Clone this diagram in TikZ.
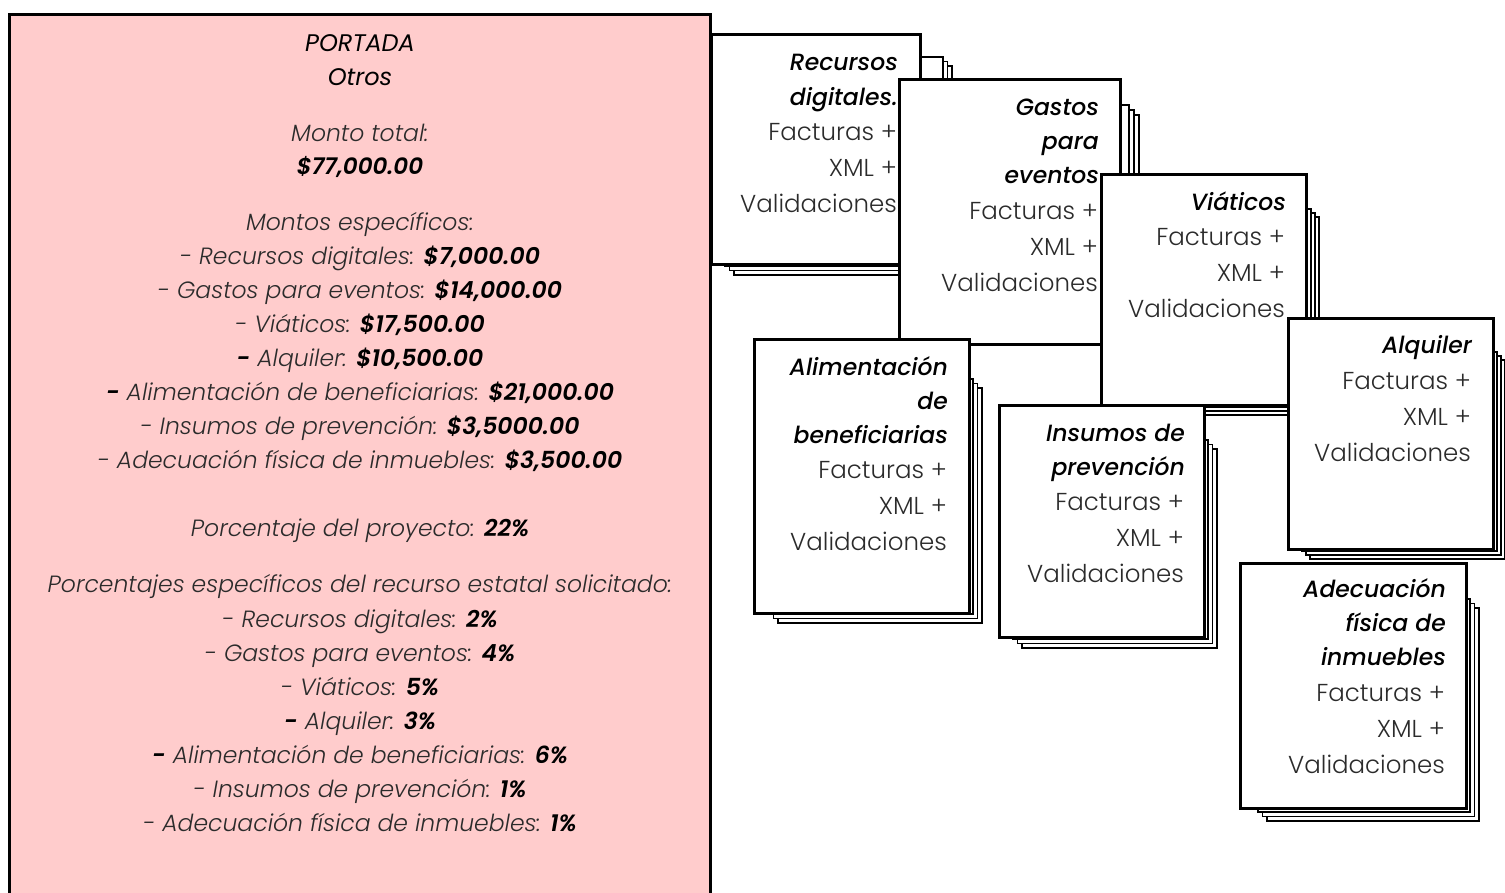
\documentclass[tikz,border=0pt]{standalone}
\usepackage{fontspec}
\setmainfont{Poppins}
\newfontface\plight{Poppins Light}
\newfontface\plightit{Poppins Light Italic}
\newfontface\pit{Poppins Italic}
\newfontface\pmedit{Poppins Medium Italic}
\newfontface\psbit{Poppins SemiBold Italic}
\definecolor{pinkfill}{HTML}{FFCCCC}
\definecolor{bodygrey}{HTML}{2B2B2B}
\newcommand\layers[5]{%
  \foreach \k in {2,1,0} {\draw[layerbox] ({#1+#5*\k},{#2+#5*\k}) rectangle ({#3+#5*\k},{#4+#5*\k});}}
\newcommand\bodylines[3]{%
  \node[bdy] (#1-b1) at (#2,#3) {Facturas +};
  \node[bdy] (#1-b2) at (#2,{#3+36}) {XML +};
  \node[bdy] (#1-b3) at (#2,{#3+72}) {Validaciones};}
\newcommand\lab[1]{{\plightit\color{bodygrey}#1}}
\newcommand\val[1]{{\psbit\color{black}#1}}
\begin{document}
\begin{tikzpicture}[x=1pt,y=-1pt,
  frontbox/.style={draw=black, line width=2.6pt, fill=white, inner sep=0pt, anchor=north west},
  layerbox/.style={draw=black, line width=1.8pt, fill=white},
  ttl/.style={font=\fontsize{23.5}{28}\pmedit, text=black, inner sep=0pt, anchor=base east},
  bdy/.style={font=\fontsize{24.5}{28}\plight, text=bodygrey, inner sep=0pt, anchor=base east},
  pk/.style={font=\fontsize{23.5}{28}\plightit, text=bodygrey, inner sep=0pt, anchor=base},
]
\useasboundingbox (0,0) rectangle (1505,892);
\clip (0,0) rectangle (1505,892);

% left cover box
\node[draw=black, line width=3pt, fill=pinkfill, inner sep=0pt, anchor=north west,
      minimum width=701pt, minimum height=900pt] (portada) at (8,13) {};
\node[pk, font=\fontsize{24}{28}\pit, text=black] (p1) at (360,51) {PORTADA};
\node[pk, font=\fontsize{24}{28}\pit, text=black] (p2) at (360,85) {Otros};
\node[pk] (p3) at (360,141) {Monto total:};
\node[pk, font=\fontsize{23}{28}\psbit, text=black] (p4) at (360,174) {\$77,000.00};
\node[pk] (p5) at (360,230) {Montos específicos:};
\node[pk] (p6) at (360,264) {\lab{- Recursos digitales:} \val{\$7,000.00}};
\node[pk] (p7) at (360,298) {\lab{- Gastos para eventos:} \val{\$14,000.00}};
\node[pk] (p8) at (360,332) {\lab{- Viáticos:} \val{\$17,500.00}};
\node[pk] (p9) at (360,366) {\val{-} \lab{Alquiler:} \val{\$10,500.00}};
\node[pk] (p10) at (360,400) {\val{-} \lab{Alimentación de beneficiarias:} \val{\$21,000.00}};
\node[pk] (p11) at (360,434) {\lab{- Insumos de prevención:} \val{\$3,5000.00}};
\node[pk] (p12) at (360,468) {\lab{- Adecuación física de inmuebles:} \val{\$3,500.00}};
\node[pk] (p13) at (360,536) {\lab{Porcentaje del proyecto:} \val{22\%}};
\node[pk] (p14) at (360,592) {Porcentajes específicos del recurso estatal solicitado:};
\node[pk] (p15) at (360,627) {\lab{- Recursos digitales:} \val{2\%}};
\node[pk] (p16) at (360,661) {\lab{- Gastos para eventos:} \val{4\%}};
\node[pk] (p17) at (360,695) {\lab{- Viáticos:} \val{5\%}};
\node[pk] (p18) at (360,729) {\val{-} \lab{Alquiler:} \val{3\%}};
\node[pk] (p19) at (360,763) {\val{-} \lab{Alimentación de beneficiarias:} \val{6\%}};
\node[pk] (p20) at (360,797) {\lab{- Insumos de prevención:} \val{1\%}};
\node[pk] (p21) at (360,831) {\lab{- Adecuación física de inmuebles:} \val{1\%}};

% Recursos digitales
\layers{725}{57}{943}{266}{4.5}
\node[frontbox, minimum width=209pt, minimum height=230pt] (rec) at (710,33) {};
\node[ttl] (rec-t1) at (898,70) {Recursos};
\node[ttl] (rec-t2) at (898,105) {digitales.};
\bodylines{rec}{897}{140}

% Gastos para eventos
\layers{913}{105}{1129}{330}{5}
\node[frontbox, minimum width=221pt, minimum height=265pt] (gas) at (898,78) {};
\node[ttl] (gas-t1) at (1099,115) {Gastos};
\node[ttl] (gas-t2) at (1099,149) {para};
\node[ttl] (gas-t3) at (1099,183) {eventos};
\bodylines{gas}{1098}{219}

% Viaticos
\layers{1115}{209}{1311}{407}{4}
\node[frontbox, minimum width=205pt, minimum height=231pt] (via) at (1100,173) {};
\node[ttl] (via-t1) at (1286,210) {Viáticos};
\bodylines{via}{1285}{245}

% Alimentacion
\layers{769}{379}{973}{614}{4.5}
\node[frontbox, minimum width=215pt, minimum height=274pt] (ali) at (753,338) {};
\node[ttl] (ali-t1) at (948,375) {Alimentación};
\node[ttl] (ali-t2) at (948,409) {de};
\node[ttl] (ali-t3) at (948,443) {beneficiarias};
\bodylines{ali}{947}{478}

% Insumos
\layers{1013}{440}{1208}{639}{4.5}
\node[frontbox, minimum width=205pt, minimum height=232pt] (ins) at (998,404) {};
\node[ttl] (ins-t1) at (1185,441) {Insumos de};
\node[ttl] (ins-t2) at (1185,475) {prevención};
\bodylines{ins}{1184}{510}

% Alquiler
\layers{1302}{352}{1497}{551}{4}
\node[frontbox, minimum width=205pt, minimum height=231pt] (alq) at (1287,317) {};
\node[ttl] (alq-t1) at (1472,353) {Alquiler};
\bodylines{alq}{1471}{389}

% Adecuacion
\layers{1258}{599}{1470}{812}{4.5}
\node[frontbox, minimum width=226pt, minimum height=245pt] (ade) at (1239,562) {};
\node[ttl] (ade-t1) at (1446,597) {Adecuación};
\node[ttl] (ade-t2) at (1446,631) {física de};
\node[ttl] (ade-t3) at (1446,665) {inmuebles};
\bodylines{ade}{1445}{701}
\end{tikzpicture}
\end{document}
